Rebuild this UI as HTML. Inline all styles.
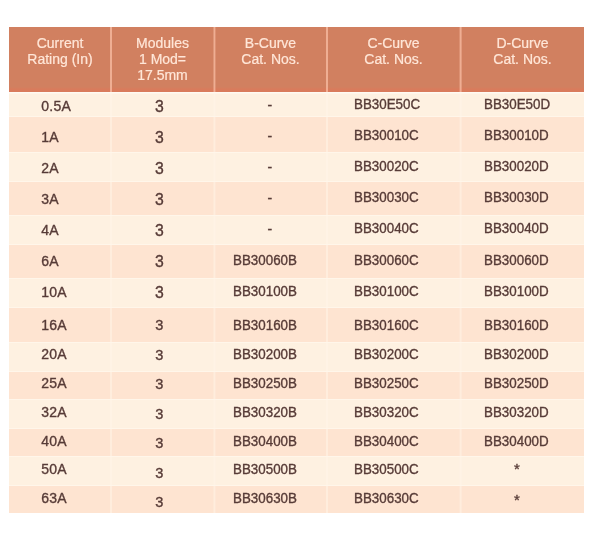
<!DOCTYPE html>
<html><head><meta charset="utf-8"><title>table</title>
<style>
html,body{margin:0;padding:0;background:#fff;}
body{width:612px;height:536px;position:relative;overflow:hidden;font-family:"Liberation Sans",sans-serif;}
.a{position:absolute;}
.h{position:absolute;top:35px;-webkit-text-stroke:0.2px #ffe6d8;color:#ffe6d8;font-size:14px;line-height:16px;text-align:center;white-space:nowrap;}
.t{position:absolute;color:#573b37;white-space:nowrap;line-height:16px;height:16px;-webkit-text-stroke:0.35px #573b37;transform-origin:0 0;}
.c1{font-size:14px;left:41.2px;letter-spacing:.3px;}
.c2{font-size:15.8px;left:155px;}
.c3{font-size:14px;left:232.9px;transform:scaleX(.955);}
.c4{font-size:14px;left:354.4px;transform:scaleX(.955);}
.c5{font-size:14px;left:483.6px;transform:scaleX(.955);}
.d{font-size:14px;left:267.5px;}
.s{font-size:15px;left:514px;}
</style></head><body>

<div class="a" style="left:9px;top:27px;width:575px;height:65px;background:#d18060"></div>
<div class="a" style="left:9px;top:87px;width:575px;height:5px;background:linear-gradient(#d18060,#d97b5c 40%,#d97b5c)"></div>
<div class="a" style="left:110px;top:27px;width:1px;height:65px;background:#f6b9a0;opacity:0.80"></div>
<div class="a" style="left:111px;top:27px;width:1px;height:65px;background:#f6b9a0;opacity:0.80"></div>
<div class="a" style="left:213px;top:27px;width:1px;height:65px;background:#f6b9a0;opacity:0.40"></div>
<div class="a" style="left:214px;top:27px;width:1px;height:65px;background:#f6b9a0;opacity:0.80"></div>
<div class="a" style="left:215px;top:27px;width:1px;height:65px;background:#f6b9a0;opacity:0.32"></div>
<div class="a" style="left:326px;top:27px;width:1px;height:65px;background:#f6b9a0;opacity:0.80"></div>
<div class="a" style="left:327px;top:27px;width:1px;height:65px;background:#f6b9a0;opacity:0.80"></div>
<div class="a" style="left:459px;top:27px;width:1px;height:65px;background:#f6b9a0;opacity:0.32"></div>
<div class="a" style="left:460px;top:27px;width:1px;height:65px;background:#f6b9a0;opacity:0.80"></div>
<div class="a" style="left:461px;top:27px;width:1px;height:65px;background:#f6b9a0;opacity:0.48"></div>
<div class="a" style="left:9px;top:92px;width:575px;height:24px;background:#fef1e1"></div>
<div class="a" style="left:9px;top:92px;width:575px;height:1px;background:#fff6ea"></div>
<div class="a" style="left:9px;top:116px;width:575px;height:36px;background:#fee4d1"></div>
<div class="a" style="left:9px;top:116px;width:575px;height:1px;background:#fff6ea"></div>
<div class="a" style="left:9px;top:152px;width:575px;height:29px;background:#fef1e1"></div>
<div class="a" style="left:9px;top:152px;width:575px;height:1px;background:#fff6ea"></div>
<div class="a" style="left:9px;top:181px;width:575px;height:34px;background:#fee4d1"></div>
<div class="a" style="left:9px;top:181px;width:575px;height:1px;background:#fff6ea"></div>
<div class="a" style="left:9px;top:215px;width:575px;height:29px;background:#fef1e1"></div>
<div class="a" style="left:9px;top:215px;width:575px;height:1px;background:#fff6ea"></div>
<div class="a" style="left:9px;top:244px;width:575px;height:34px;background:#fee4d1"></div>
<div class="a" style="left:9px;top:244px;width:575px;height:1px;background:#fff6ea"></div>
<div class="a" style="left:9px;top:278px;width:575px;height:29px;background:#fef1e1"></div>
<div class="a" style="left:9px;top:278px;width:575px;height:1px;background:#fff6ea"></div>
<div class="a" style="left:9px;top:307px;width:575px;height:35px;background:#fee4d1"></div>
<div class="a" style="left:9px;top:307px;width:575px;height:1px;background:#fff6ea"></div>
<div class="a" style="left:9px;top:342px;width:575px;height:29px;background:#fef1e1"></div>
<div class="a" style="left:9px;top:342px;width:575px;height:1px;background:#fff6ea"></div>
<div class="a" style="left:9px;top:371px;width:575px;height:28px;background:#fee4d1"></div>
<div class="a" style="left:9px;top:371px;width:575px;height:1px;background:#fff6ea"></div>
<div class="a" style="left:9px;top:399px;width:575px;height:29px;background:#fef1e1"></div>
<div class="a" style="left:9px;top:399px;width:575px;height:1px;background:#fff6ea"></div>
<div class="a" style="left:9px;top:428px;width:575px;height:28px;background:#fee4d1"></div>
<div class="a" style="left:9px;top:428px;width:575px;height:1px;background:#fff6ea"></div>
<div class="a" style="left:9px;top:456px;width:575px;height:29px;background:#fef1e1"></div>
<div class="a" style="left:9px;top:456px;width:575px;height:1px;background:#fff6ea"></div>
<div class="a" style="left:9px;top:485px;width:575px;height:28px;background:#fee4d1"></div>
<div class="a" style="left:9px;top:485px;width:575px;height:1px;background:#fff6ea"></div>
<div class="a" style="left:9px;top:92px;width:575px;height:1px;background:#fffaf2"></div>
<div class="a" style="left:9px;top:93px;width:575px;height:1px;background:#fff8ee;opacity:.6"></div>
<div class="a" style="left:110px;top:92px;width:1px;height:421px;background:#fff6ea;opacity:0.50"></div>
<div class="a" style="left:111px;top:92px;width:1px;height:421px;background:#fff6ea;opacity:0.50"></div>
<div class="a" style="left:213px;top:92px;width:1px;height:421px;background:#fff6ea;opacity:0.25"></div>
<div class="a" style="left:214px;top:92px;width:1px;height:421px;background:#fff6ea;opacity:0.50"></div>
<div class="a" style="left:215px;top:92px;width:1px;height:421px;background:#fff6ea;opacity:0.20"></div>
<div class="a" style="left:326px;top:92px;width:1px;height:421px;background:#fff6ea;opacity:0.50"></div>
<div class="a" style="left:327px;top:92px;width:1px;height:421px;background:#fff6ea;opacity:0.50"></div>
<div class="a" style="left:459px;top:92px;width:1px;height:421px;background:#fff6ea;opacity:0.20"></div>
<div class="a" style="left:460px;top:92px;width:1px;height:421px;background:#fff6ea;opacity:0.50"></div>
<div class="a" style="left:461px;top:92px;width:1px;height:421px;background:#fff6ea;opacity:0.30"></div>
<div class="a" style="left:0;top:0;width:612px;height:536px;will-change:transform">
<div class="h" style="left:9px;width:102px">Current<br>Rating (In)</div>
<div class="h" style="left:110px;width:105px">Modules<br>1 Mod=<br>17.5mm</div>
<div class="h" style="left:214px;width:113px">B-Curve<br>Cat. Nos.</div>
<div class="h" style="left:326px;width:135px">C-Curve<br>Cat. Nos.</div>
<div class="h" style="left:460px;width:125px">D-Curve<br>Cat. Nos.</div>
<div class="t c1" style="top:98px">0.5A</div>
<div class="t c2" style="top:99px">3</div>
<div class="t d" style="top:97px">-</div>
<div class="t c4" style="top:96px">BB30E50C</div>
<div class="t c5" style="top:96px">BB30E50D</div>
<div class="t c1" style="top:129px">1A</div>
<div class="t c2" style="top:130px">3</div>
<div class="t d" style="top:128px">-</div>
<div class="t c4" style="top:127px">BB30010C</div>
<div class="t c5" style="top:127px">BB30010D</div>
<div class="t c1" style="top:160px">2A</div>
<div class="t c2" style="top:161px">3</div>
<div class="t d" style="top:159px">-</div>
<div class="t c4" style="top:158px">BB30020C</div>
<div class="t c5" style="top:158px">BB30020D</div>
<div class="t c1" style="top:191px">3A</div>
<div class="t c2" style="top:192px">3</div>
<div class="t d" style="top:190px">-</div>
<div class="t c4" style="top:189px">BB30030C</div>
<div class="t c5" style="top:189px">BB30030D</div>
<div class="t c1" style="top:222px">4A</div>
<div class="t c2" style="top:223px">3</div>
<div class="t d" style="top:221px">-</div>
<div class="t c4" style="top:220px">BB30040C</div>
<div class="t c5" style="top:220px">BB30040D</div>
<div class="t c1" style="top:253px">6A</div>
<div class="t c2" style="top:254px">3</div>
<div class="t c3" style="top:252px">BB30060B</div>
<div class="t c4" style="top:252px">BB30060C</div>
<div class="t c5" style="top:252px">BB30060D</div>
<div class="t c1" style="top:284px">10A</div>
<div class="t c2" style="top:285px">3</div>
<div class="t c3" style="top:283px">BB30100B</div>
<div class="t c4" style="top:283px">BB30100C</div>
<div class="t c5" style="top:283px">BB30100D</div>
<div class="t c1" style="top:317px">16A</div>
<div class="t c2" style="top:317px;font-size:14.6px;left:155.3px">3</div>
<div class="t c3" style="top:317px">BB30160B</div>
<div class="t c4" style="top:317px">BB30160C</div>
<div class="t c5" style="top:317px">BB30160D</div>
<div class="t c1" style="top:346px">20A</div>
<div class="t c2" style="top:347px;font-size:14.6px;left:155.3px">3</div>
<div class="t c3" style="top:346px">BB30200B</div>
<div class="t c4" style="top:346px">BB30200C</div>
<div class="t c5" style="top:346px">BB30200D</div>
<div class="t c1" style="top:375px">25A</div>
<div class="t c2" style="top:376px;font-size:14.6px;left:155.3px">3</div>
<div class="t c3" style="top:375px">BB30250B</div>
<div class="t c4" style="top:375px">BB30250C</div>
<div class="t c5" style="top:375px">BB30250D</div>
<div class="t c1" style="top:404px">32A</div>
<div class="t c2" style="top:406px;font-size:14.6px;left:155.3px">3</div>
<div class="t c3" style="top:404px">BB30320B</div>
<div class="t c4" style="top:404px">BB30320C</div>
<div class="t c5" style="top:404px">BB30320D</div>
<div class="t c1" style="top:433px">40A</div>
<div class="t c2" style="top:435px;font-size:14.6px;left:155.3px">3</div>
<div class="t c3" style="top:433px">BB30400B</div>
<div class="t c4" style="top:433px">BB30400C</div>
<div class="t c5" style="top:433px">BB30400D</div>
<div class="t c1" style="top:461px">50A</div>
<div class="t c2" style="top:465px;font-size:14.6px;left:155.3px">3</div>
<div class="t c3" style="top:461px">BB30500B</div>
<div class="t c4" style="top:461px">BB30500C</div>
<div class="t s" style="top:461px">*</div>
<div class="t c1" style="top:490px">63A</div>
<div class="t c2" style="top:494px;font-size:14.6px;left:155.3px">3</div>
<div class="t c3" style="top:490px">BB30630B</div>
<div class="t c4" style="top:490px">BB30630C</div>
<div class="t s" style="top:492px">*</div>
</div>
</body></html>
